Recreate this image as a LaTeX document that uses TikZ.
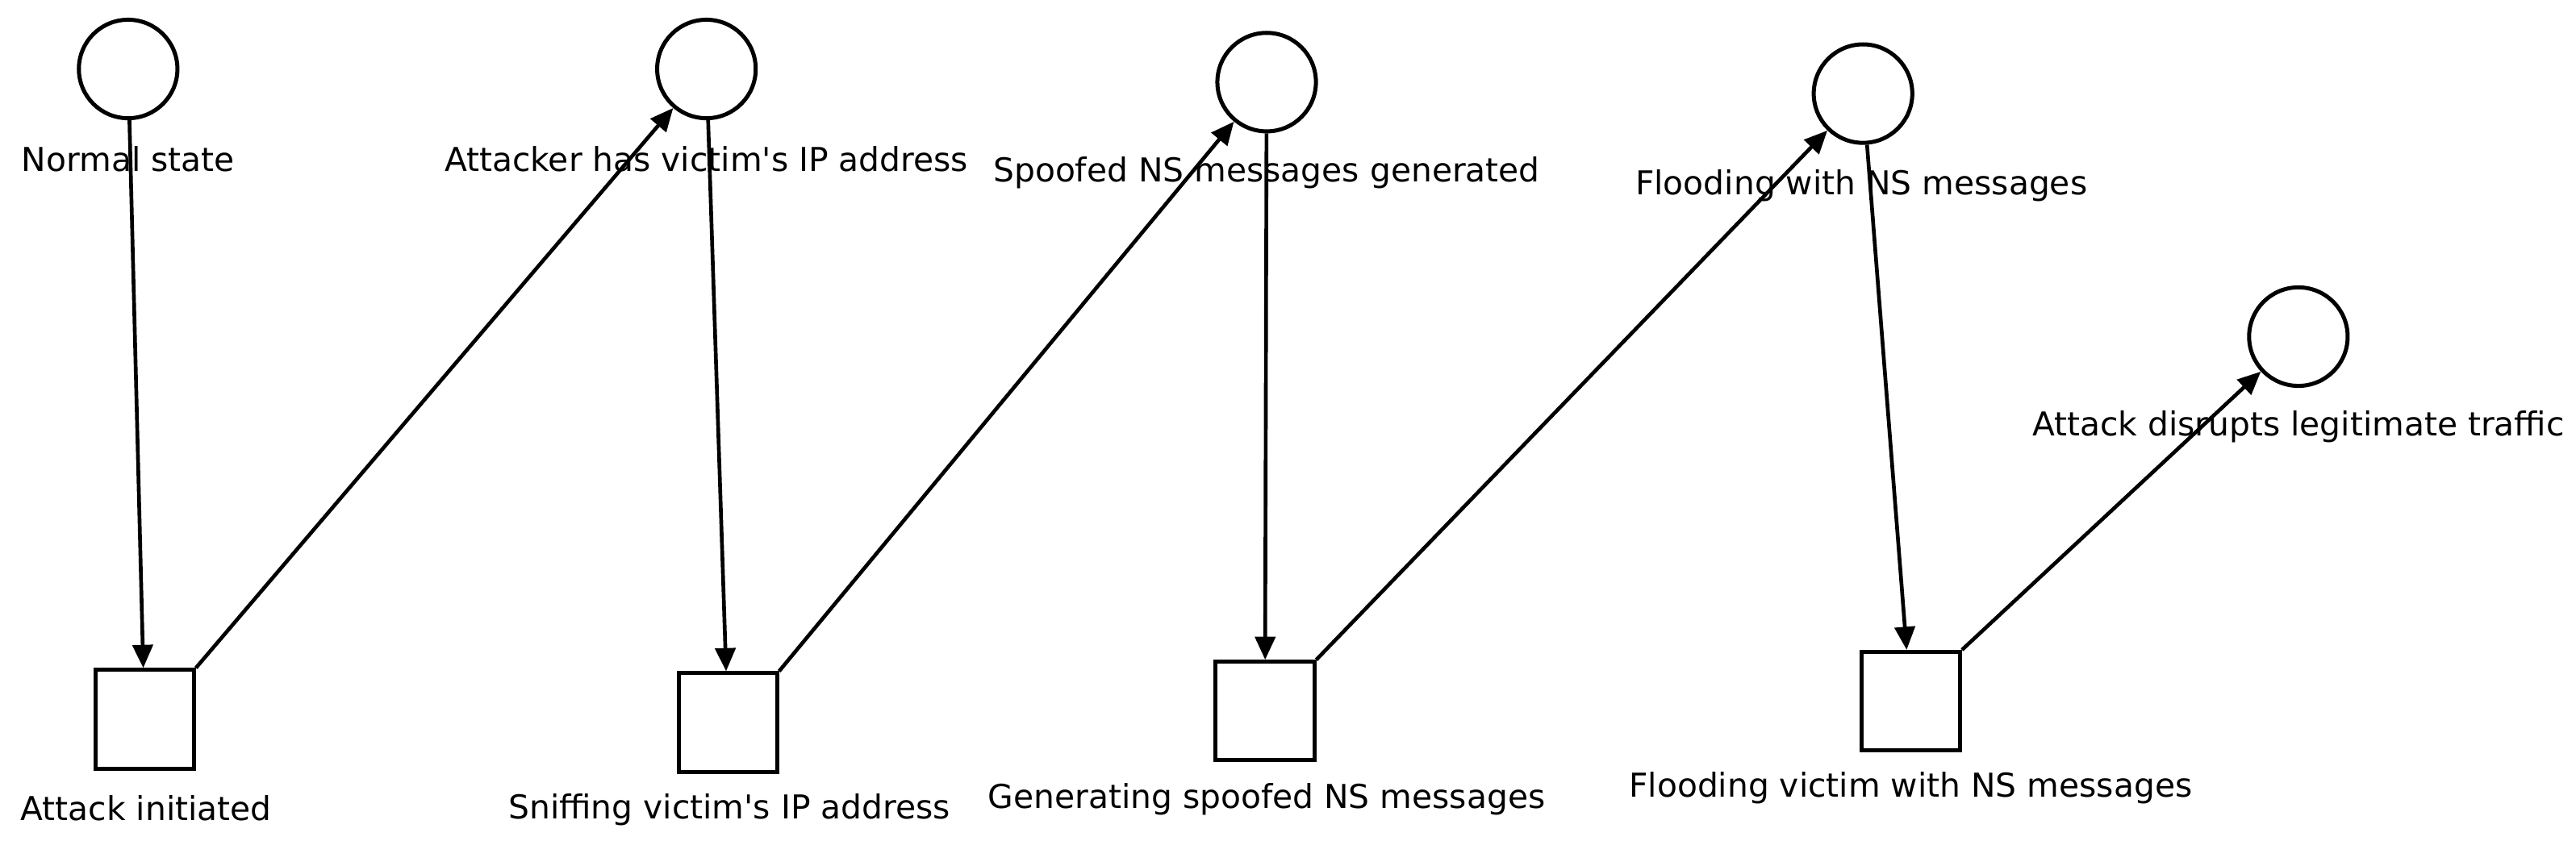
\documentclass[tikz,border=0pt]{standalone}
\usepackage{fontspec}
\setmainfont{DejaVu Sans}
\usetikzlibrary{arrows.meta}
\begin{document}
\begin{tikzpicture}[x=0.02cm,y=-0.02cm,
    place/.style={circle, draw, line width=1.4pt, minimum size=60*0.02cm, inner sep=0pt},
    trans/.style={rectangle, draw, line width=1.4pt, minimum size=60*0.02cm, inner sep=0pt},
    lab/.style={font=\fontsize{11.4}{13}\selectfont, inner sep=0pt},
    arr/.style={-{Triangle[length=8pt,width=7pt]}, line width=1.3pt}
]
    \useasboundingbox (0,0) rectangle (1568,512);
    % places
    \node[place] (c1) at (78,42) {};
    \node[place] (c2) at (430,42) {};
    \node[place] (c3) at (771,50) {};
    \node[place] (c4) at (1134,57) {};
    \node[place] (c5) at (1399,205) {};
    % transitions
    \node[trans] (s1) at (88,438) {};
    \node[trans] (s2) at (443,440) {};
    \node[trans] (s3) at (770,433) {};
    \node[trans] (s4) at (1163,427) {};
    % labels
    \node[lab] (l1) at (78,97) {Normal state};
    \node[lab] (l2) at (430,97) {Attacker has victim\textquotesingle s IP address};
    \node[lab] (l3) at (771,105) {Spoofed NS messages generated};
    \node[lab] (l4) at (1133,113) {Flooding with NS messages};
    \node[lab] (l5) at (1399,260) {Attack disrupts legitimate traffic};
    \node[lab] (m1) at (89,492) {Attack initiated};
    \node[lab] (m2) at (444,493) {Sniffing victim\textquotesingle s IP address};
    \node[lab] (m3) at (771,487) {Generating spoofed NS messages};
    \node[lab] (m4) at (1163,480) {Flooding victim with NS messages};
    % arcs
    \draw[arr] (c1) -- (s1);
    \draw[arr] (s1.north east) -- (c2);
    \draw[arr] (c2) -- (s2);
    \draw[arr] (s2.north east) -- (c3);
    \draw[arr] (c3) -- (s3);
    \draw[arr] (s3.north east) -- (c4);
    \draw[arr] (c4) -- (s4);
    \draw[arr] (s4.north east) -- (c5);
\end{tikzpicture}
\end{document}
